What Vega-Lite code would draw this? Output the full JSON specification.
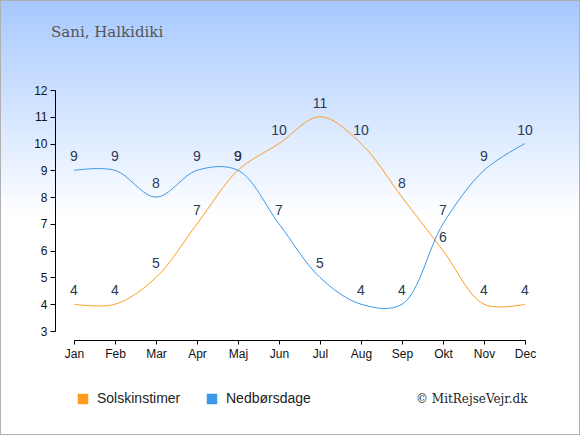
{
  "$schema": "https://vega.github.io/schema/vega-lite/v6.json",
  "width": 580,
  "height": 435,
  "autosize": "none",
  "padding": 0,
  "background": "white",
  "view": {
    "stroke": "#b0b0b0",
    "strokeWidth": 2,
    "fill": {"gradient": "linear", "x1": 0, "y1": 0, "x2": 0, "y2": 1,
      "stops": [{"offset": 0, "color": "#a6c8ff"}, {"offset": 0.5, "color": "#ffffff"}, {"offset": 1, "color": "#ffffff"}]}
  },
  "title": {
    "text": "Sani, Halkidiki",
    "anchor": "start",
    "frame": "group",
    "orient": "top",
    "offset": -40,
    "dx": 51,
    "font": "DejaVu Serif",
    "fontSize": 15,
    "fontWeight": "normal",
    "color": "#555555"
  },
  "data": {"values": [
    {"month": "Jan", "serie": "Solskinstimer", "value": 4},
    {"month": "Feb", "serie": "Solskinstimer", "value": 4},
    {"month": "Mar", "serie": "Solskinstimer", "value": 5},
    {"month": "Apr", "serie": "Solskinstimer", "value": 7},
    {"month": "Maj", "serie": "Solskinstimer", "value": 9},
    {"month": "Jun", "serie": "Solskinstimer", "value": 10},
    {"month": "Jul", "serie": "Solskinstimer", "value": 11},
    {"month": "Aug", "serie": "Solskinstimer", "value": 10},
    {"month": "Sep", "serie": "Solskinstimer", "value": 8},
    {"month": "Okt", "serie": "Solskinstimer", "value": 6},
    {"month": "Nov", "serie": "Solskinstimer", "value": 4},
    {"month": "Dec", "serie": "Solskinstimer", "value": 4},
    {"month": "Jan", "serie": "Nedbørsdage", "value": 9},
    {"month": "Feb", "serie": "Nedbørsdage", "value": 9},
    {"month": "Mar", "serie": "Nedbørsdage", "value": 8},
    {"month": "Apr", "serie": "Nedbørsdage", "value": 9},
    {"month": "Maj", "serie": "Nedbørsdage", "value": 9},
    {"month": "Jun", "serie": "Nedbørsdage", "value": 7},
    {"month": "Jul", "serie": "Nedbørsdage", "value": 5},
    {"month": "Aug", "serie": "Nedbørsdage", "value": 4},
    {"month": "Sep", "serie": "Nedbørsdage", "value": 4},
    {"month": "Okt", "serie": "Nedbørsdage", "value": 7},
    {"month": "Nov", "serie": "Nedbørsdage", "value": 9},
    {"month": "Dec", "serie": "Nedbørsdage", "value": 10}
  ]},
  "encoding": {
    "x": {
      "field": "month", "type": "ordinal",
      "sort": ["Jan", "Feb", "Mar", "Apr", "Maj", "Jun", "Jul", "Aug", "Sep", "Okt", "Nov", "Dec"],
      "scale": {"type": "point", "range": [74, 525], "padding": 0},
      "axis": {
        "orient": "bottom", "offset": -95, "grid": false,
        "domainColor": "#000000", "tickColor": "#000000", "tickSize": 4,
        "labelAngle": 0, "labelFont": "Liberation Sans", "labelFontSize": 12,
        "labelColor": "#111111", "labelPadding": 4,
        "title": "© MitRejseVejr.dk", "titleFont": "DejaVu Serif", "titleFontSize": 12,
        "titleFontWeight": "normal", "titleColor": "#222222",
        "titleX": 527, "titleY": 58, "titleAlign": "right", "titleBaseline": "middle", "titleAnchor": null
      }
    },
    "y": {
      "field": "value", "type": "quantitative",
      "scale": {"domain": [3, 12], "range": [331, 90], "nice": false, "zero": false},
      "axis": {
        "orient": "left", "offset": -55, "grid": false, "title": null,
        "values": [3, 4, 5, 6, 7, 8, 9, 10, 11, 12],
        "domainColor": "#000000", "tickColor": "#000000", "tickSize": 5,
        "labelFont": "Liberation Sans", "labelFontSize": 12, "labelColor": "#111111", "labelPadding": 3
      }
    }
  },
  "layer": [
    {
      "mark": {"type": "line", "interpolate": "catmull-rom", "strokeWidth": 1},
      "encoding": {
        "color": {
          "field": "serie", "type": "nominal",
          "scale": {"domain": ["Solskinstimer", "Nedbørsdage"], "range": ["#ff9c20", "#3a98e8"]},
          "legend": {
            "orient": "none", "legendX": 76, "legendY": 392, "direction": "horizontal",
            "title": null, "symbolType": "square", "symbolSize": 110, "symbolStrokeWidth": 0,
            "labelFont": "Liberation Sans", "labelFontSize": 14, "labelColor": "#222222",
            "labelOffset": 7, "columnPadding": 24,
            "encode": {"symbols": {"update": {"fill": {"scale": "color", "field": "value"}, "fillOpacity": {"value": 1}}}}
          }
        }
      }
    },
    {
      "mark": {"type": "text", "dy": -13, "font": "Liberation Sans", "fontSize": 14, "color": "#2b3a55", "baseline": "middle"},
      "encoding": {"text": {"field": "value", "type": "quantitative"}}
    }
  ]
}
